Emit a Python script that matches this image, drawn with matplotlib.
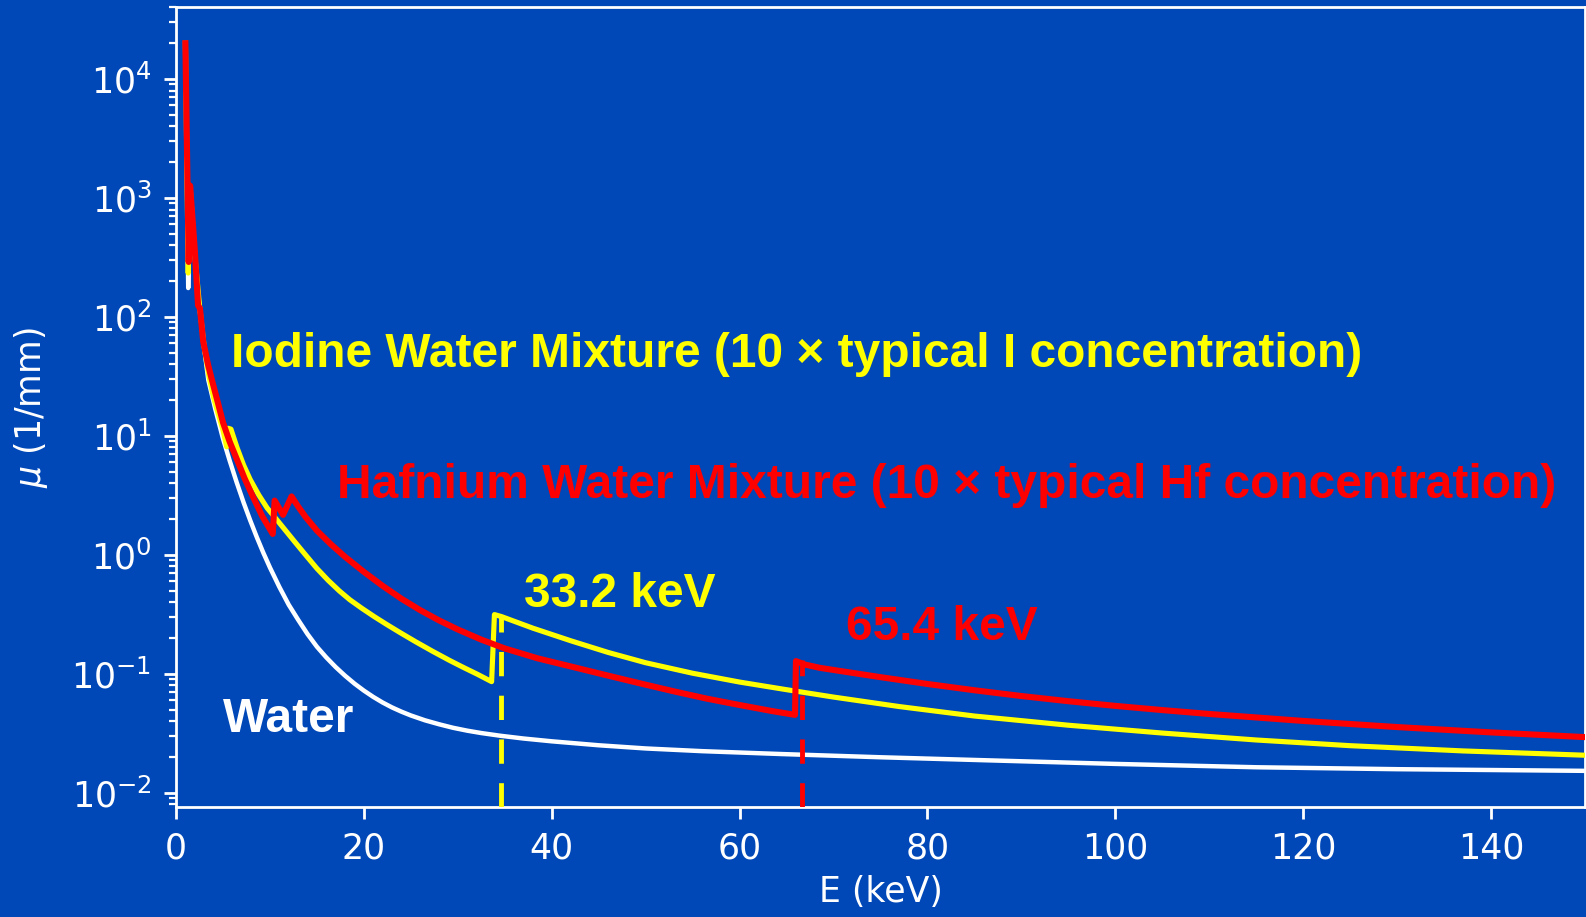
import matplotlib
matplotlib.use('Agg')
import matplotlib.pyplot as plt

# attenuation curves (E in keV, mu in 1/mm)
water_E = [1.0, 1.3, 1.5, 2.0, 2.5, 3.0, 3.44, 4.2, 5.0, 5.7, 6.45, 7.2, 7.9, 8.6, 9.3, 10,
           11, 12, 13, 14, 15, 16, 17, 18, 19, 20, 21, 22, 23, 24, 25, 26.5, 28, 29.5, 31,
           32.5, 34.5, 37, 40, 45, 50, 56, 64.3, 75, 87, 100, 115, 130, 150]
water_mu = [2e4, 175, 1250, 330, 120, 55, 29.5, 16.6, 9.5, 6.25, 4.09, 2.75, 1.95, 1.41, 1.04,
            0.783, 0.538, 0.381, 0.285, 0.216, 0.169, 0.1374, 0.114, 0.0964, 0.0828, 0.0723,
            0.064, 0.0574, 0.0522, 0.0481, 0.0447, 0.0407, 0.0377, 0.0352, 0.0333, 0.0318,
            0.0302, 0.0286, 0.0271, 0.0251, 0.0236, 0.0224, 0.0212, 0.0199, 0.0187, 0.0175,
            0.0164, 0.0158, 0.0153]

iodine_E = [1.0, 1.3, 1.5, 2.0, 2.5, 3.0, 3.5, 4.0, 4.7, 5.0, 5.4, 5.55, 5.85, 6.5, 7.2, 7.9,
            8.8, 9.7, 10.5, 11.4, 12.6, 13.8, 15, 16.2, 17.4, 18.5, 19.8, 21.1, 22.4, 23.8,
            25.5, 27.3, 29.1, 30.6, 32.1, 33.6, 33.9, 34.65, 38, 42, 46, 50, 55, 60, 65, 70,
            77, 85, 95, 105, 115, 125, 137, 150]
iodine_mu = [2e4, 234, 1250, 335, 125, 56, 32, 21, 13.5, 11.2, 8.1, 11.6, 11.4, 7.96, 5.68,
             4.30, 3.20, 2.48, 2.08, 1.70, 1.30, 0.998, 0.769, 0.611, 0.497, 0.42, 0.355,
             0.303, 0.261, 0.2236, 0.1864, 0.155, 0.130, 0.1132, 0.0991, 0.086, 0.315, 0.303,
             0.242, 0.190, 0.1514, 0.124, 0.1012, 0.0853, 0.0736, 0.0638, 0.0531, 0.0442,
             0.0370, 0.0318, 0.0278, 0.0249, 0.0225, 0.0207]

hafnium_E = [1.0, 1.35, 1.5, 2.0, 2.35, 2.55, 2.9, 3.4, 3.9, 4.5, 5.0, 5.7, 6.5, 7.3, 8.2, 9.2,
             10.3, 10.5, 11.4, 12.3, 13.0, 13.8, 15, 16.5, 18, 20, 22, 24, 26, 28, 30, 32.5,
             35, 38.5, 42.3, 46, 49.4, 53, 56.5, 60, 63.5, 65.9, 66.0, 66.9, 68.5, 70.6, 75,
             80, 85, 90, 95, 100, 105, 110, 120, 130, 140, 150]
hafnium_mu = [2e4, 290, 1270, 364, 125, 118, 62, 40, 28, 18.5, 13, 9.0, 6.3, 4.4, 3.07, 2.1,
              1.50, 2.86, 2.17, 3.1, 2.55, 2.08, 1.6, 1.226, 0.963, 0.72, 0.549, 0.428, 0.343,
              0.2815, 0.236, 0.194, 0.1635, 0.135, 0.114, 0.0966, 0.0832, 0.0713, 0.0619,
              0.0547, 0.0486, 0.0452, 0.128, 0.12, 0.1125, 0.106, 0.0938, 0.0822, 0.0728,
              0.0651, 0.0589, 0.0538, 0.0496, 0.046, 0.0402, 0.0357, 0.0322, 0.0294]

# K-edge markers (position on plot, top of dashed line)
iodine_edge = 34.6
iodine_edge_top = 0.30
hafnium_edge = 66.6
hafnium_edge_top = 0.13

xlim = (0, 150)
ylim = (0.0076, 40300)

bg = '#0048B8'
yellow = '#FFFF00'
red = '#FF0000'

plt.rcParams['font.family'] = ['DejaVu Sans']
fig = plt.figure(figsize=(15.86, 9.17), dpi=100, facecolor=bg)
ax = fig.add_axes([0.11097, 0.11996, 0.8884, 0.8724], facecolor=bg)

ax.plot(water_E, water_mu, color='white', lw=3.2, zorder=2)
ax.plot(iodine_E, iodine_mu, color=yellow, lw=3.7, zorder=3)
ax.plot([iodine_edge, iodine_edge], [ylim[0], iodine_edge_top], color=yellow, lw=3.5,
        dashes=(5, 4), zorder=4)
ax.plot(hafnium_E, hafnium_mu, color=red, lw=4.4, zorder=5)
ax.plot([hafnium_edge, hafnium_edge], [ylim[0], hafnium_edge_top], color=red, lw=3.5,
        dashes=(5, 4), zorder=6)

ax.set_yscale('log')
ax.set_xlim(xlim)
ax.set_ylim(ylim)

for s in ax.spines.values():
    s.set_color('white')
    s.set_linewidth(2)
ax.tick_params(which='major', colors='white', labelsize=25, length=8.6, width=2, pad=9)
ax.tick_params(which='minor', colors='white', length=5, width=1.6)

ax.set_xlabel('E (keV)', color='white', fontsize=25)
ax.set_ylabel(r'$\mu$ (1/mm)', color='white', fontsize=25)
ax.xaxis.set_label_coords(0.5, -0.085)
ax.yaxis.set_label_coords(-0.0895, 0.5)

tfont = dict(family=['Liberation Sans', 'DejaVu Sans'], weight='bold', fontsize=34.5,
             ha='left', va='baseline')
ax.text(5.85, 38, 'Iodine Water Mixture (10 × typical I concentration)', color=yellow, **tfont)
ax.text(17.1, 3.03, 'Hafnium Water Mixture (10 × typical Hf concentration)', color=red, **tfont)
ax.text(37.0, 0.368, '33.2 keV', color=yellow, **tfont)
ax.text(71.3, 0.193, '65.4 keV', color=red, **tfont)
ax.text(5.0, 0.0326, 'Water', color='white', **tfont)

fig.savefig('out.png', dpi=100, facecolor=bg)
